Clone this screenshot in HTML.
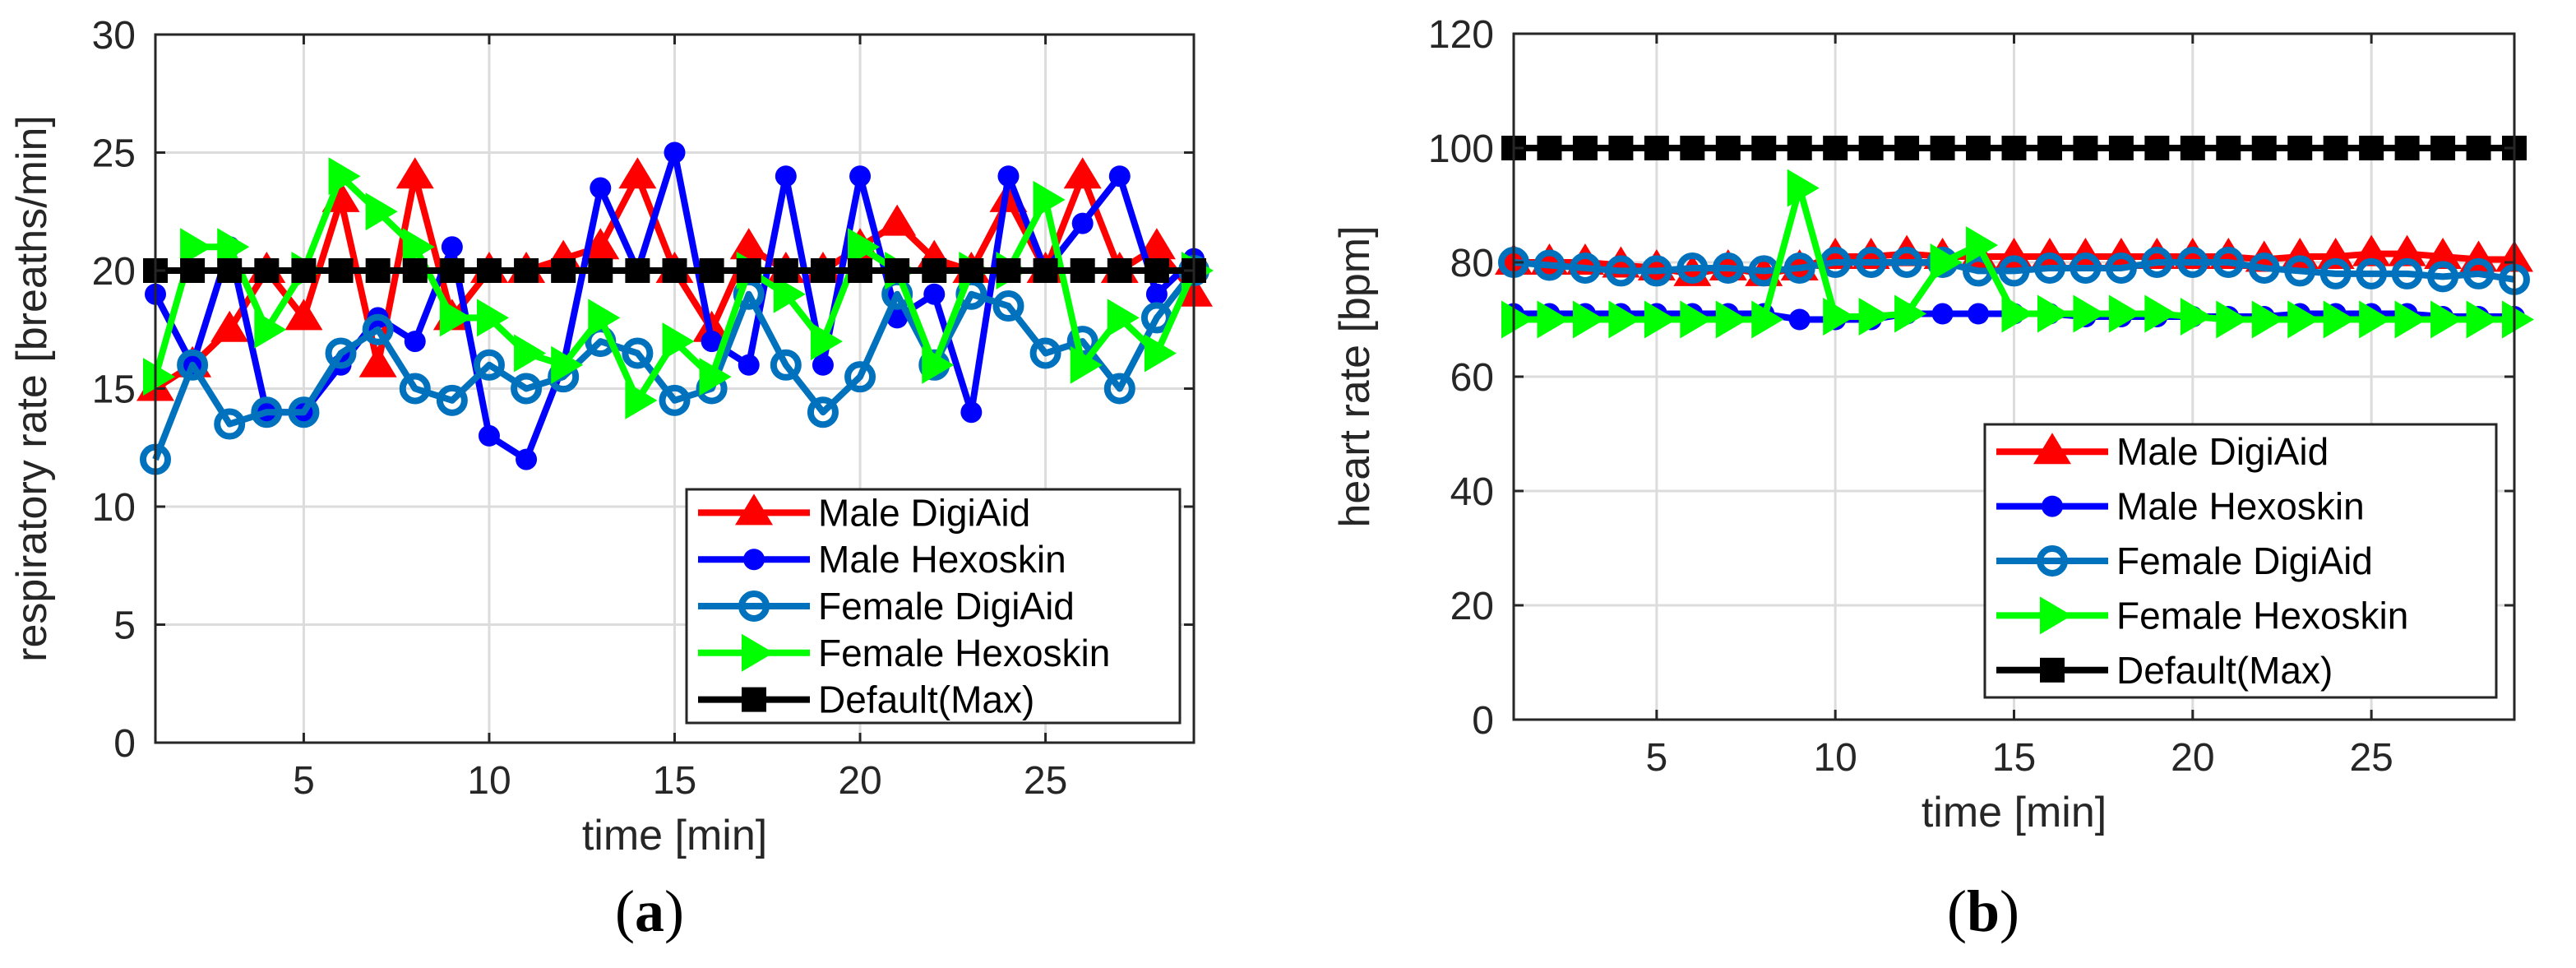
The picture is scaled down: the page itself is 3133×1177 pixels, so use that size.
<!DOCTYPE html>
<html><head><meta charset="utf-8"><style>
body{margin:0;background:#fff;}
svg{display:block;font-family:"Liberation Sans",sans-serif;}
</style></head><body>
<svg id="fig" width="3133" height="1177" viewBox="0 0 3133 1177" xmlns="http://www.w3.org/2000/svg"></svg>
<script>
const minutes = [1,2,3,4,5,6,7,8,9,10,11,12,13,14,15,16,17,18,19,20,21,22,23,24,25,26,27,28,29];
const rrMaleDigiAid = [15,16,17.5,20,18,23,16,24,18,20,20,20.5,21,24,20,17.5,21,20,20,21,22,20.5,20,23,20,24,20,21,19];
const rrMaleHexoskin = [19,16,21,14,14,16,18,17,21,13,12,16,23.5,20,25,17,16,24,16,24,18,19,14,24,20,22,24,19,20.5];
const rrFemaleDigiAid = [12,16,13.5,14,14,16.5,17.5,15,14.5,16,15,15.5,17,16.5,14.5,15,19,16,14,15.5,19,16,19,18.5,16.5,17,15,18,20];
const rrFemaleHexoskin = [15.5,21,21,17.5,20,24,22.5,21,18,18,16.5,16,18,14.5,17,15.5,20,19,17,21,20,16,20,20,23,16,18,16.5,20];
const rrDefault = [20,20,20,20,20,20,20,20,20,20,20,20,20,20,20,20,20,20,20,20,20,20,20,20,20,20,20,20,20];
const hrMaleDigiAid = [80,80,80,79.5,79,78,79,78,79,81,81,81.5,81,81,81,81,81,81,81,81,81,80.5,81,81,81.5,81.5,81,80.5,80.5];
const hrMaleHexoskin = [71,71,71,71,71,71,71,71,70,70,70,71,71,71,71,71,70.5,70.5,70.5,70.5,70.5,70.5,71,71,71,71,70.5,70.5,70.5];
const hrFemaleDigiAid = [80,79.5,79,78.5,78.5,79,79,78.5,79,80,80,80,80,78.5,78.5,79,79,79,80,80,80,79,78.5,78,78,78,77.5,78,77];
const hrFemaleHexoskin = [70,70,70,70,70,70,70,70,93,70.5,70.5,71,80,83,71,71,71,71,71,70.5,70,70,70,70,70,70,70,70,70];
const hrDefault = [100,100,100,100,100,100,100,100,100,100,100,100,100,100,100,100,100,100,100,100,100,100,100,100,100,100,100,100,100];
const xTicks = [5,10,15,20,25];
const rrTicks = [0,5,10,15,20,25,30];
const hrTicks = [0,20,40,60,80,100,120];
const seriesNames = ["Male DigiAid","Male Hexoskin","Female DigiAid","Female Hexoskin","Default(Max)"];

const NS="http://www.w3.org/2000/svg";
const svg=document.getElementById('fig');
function mk(tag,attrs,parent){const e=document.createElementNS(NS,tag);for(const k in attrs)e.setAttribute(k,attrs[k]);(parent||svg).appendChild(e);return e;}
const styles=[
 {color:"#ff0000",marker:"tri"},
 {color:"#0000ff",marker:"dot"},
 {color:"#0072bd",marker:"circ"},
 {color:"#00ff00",marker:"rtri"},
 {color:"#000000",marker:"sq"}];
function marker(g,type,color,x,y){
  let e;
  if(type==="tri"){e=mk('polygon',{points:`${x},${y-23} ${x-23},${y+15} ${x+23},${y+15}`,fill:color},g);}
  else if(type==="dot"){e=mk('circle',{cx:x,cy:y,r:13,fill:color},g);}
  else if(type==="circ"){e=mk('circle',{cx:x,cy:y,r:15,fill:"none",stroke:color,"stroke-width":8},g);}
  else if(type==="rtri"){e=mk('polygon',{points:`${x+24},${y} ${x-15},${y-23} ${x-15},${y+23}`,fill:color},g);}
  else {e=mk('rect',{x:x-15,y:y-15,width:30,height:30,fill:color},g);}
  
  
  return e;
}
function chart(o){
  const g=mk('g',{});
  
  
  const sx=v=>o.x0+(v-1)/(28)*(o.x1-o.x0);
  const sy=v=>o.y1-(v-o.ymin)/(o.ymax-o.ymin)*(o.y1-o.y0);
  mk('rect',{x:o.x0,y:o.y0,width:o.x1-o.x0,height:o.y1-o.y0,fill:"#fff"},g);
  xTicks.forEach(t=>{const l=mk('line',{x1:sx(t),x2:sx(t),y1:o.y0,y2:o.y1,stroke:"#dcdcdc","stroke-width":3},g);
    });
  o.yTicks.forEach(t=>{const l=mk('line',{x1:o.x0,x2:o.x1,y1:sy(t),y2:sy(t),stroke:"#dcdcdc","stroke-width":3},g);
    });
  o.series.forEach((d,i)=>{
    const s=styles[i];
    const sg=mk('g',{},g);
    
    
    mk('polyline',{points:d.map((v,j)=>sx(minutes[j])+','+sy(v)).join(' '),fill:"none",stroke:s.color,"stroke-width":8,"stroke-linejoin":"round"},sg);
    d.forEach((v,j)=>marker(sg,s.marker,s.color,sx(minutes[j]),sy(v)));
  });
  const bx=mk('rect',{x:o.x0,y:o.y0,width:o.x1-o.x0,height:o.y1-o.y0,fill:"none",stroke:"#262626","stroke-width":3},g);
  
  xTicks.forEach(t=>{
    mk('line',{x1:sx(t),x2:sx(t),y1:o.y1,y2:o.y1-12,stroke:"#262626","stroke-width":3},g);
    mk('line',{x1:sx(t),x2:sx(t),y1:o.y0,y2:o.y0+12,stroke:"#262626","stroke-width":3},g);
    const tx=mk('text',{x:sx(t),y:o.y1+62,"text-anchor":"middle","font-size":48,fill:"#262626"},g);tx.textContent=t;
    
  });
  o.yTicks.forEach(t=>{
    mk('line',{x1:o.x0,x2:o.x0+12,y1:sy(t),y2:sy(t),stroke:"#262626","stroke-width":3},g);
    mk('line',{x1:o.x1,x2:o.x1-12,y1:sy(t),y2:sy(t),stroke:"#262626","stroke-width":3},g);
    const tx=mk('text',{x:o.x0-24,y:sy(t)+17,"text-anchor":"end","font-size":48,fill:"#262626"},g);tx.textContent=t;
    
  });
  const xt=mk('text',{x:(o.x0+o.x1)/2,y:o.y1+130,"text-anchor":"middle","font-size":52,fill:"#262626"},g);xt.textContent="time [min]";
  
  const yt=mk('text',{x:0,y:0,"text-anchor":"middle","font-size":52,fill:"#262626",transform:`translate(${o.ytx},${(o.y0+o.y1)/2}) rotate(-90)`},g);yt.textContent=o.ytitle;
  
  const lg=mk('g',{},g);
  
  mk('rect',{x:o.lx,y:o.ly,width:o.lw,height:o.lh,fill:"#fff",stroke:"#262626","stroke-width":3},lg);
  const step=o.lh/5;
  seriesNames.forEach((n,i)=>{
    const cy=o.ly+step*(i+0.5);
    const eg=mk('g',{},lg);
    
    mk('line',{x1:o.lx+14,x2:o.lx+150,y1:cy,y2:cy,stroke:styles[i].color,"stroke-width":8},eg);
    marker(eg,styles[i].marker,styles[i].color,o.lx+82,cy);
    const t=mk('text',{x:o.lx+160,y:cy+16,"font-size":46,fill:"#000"},eg);t.textContent=n;
  });
  const cap=mk('text',{x:o.capx,y:1132,"text-anchor":"middle","font-size":72,fill:"#000","font-family":"Liberation Serif, serif"},g);
  cap.innerHTML='(<tspan font-weight="bold">'+o.cap+'</tspan>)';
  
}
chart({name:"respiratory-rate-chart",x0:189,x1:1452,y0:42,y1:903,ymin:0,ymax:30,yTicks:rrTicks,
  series:[rrMaleDigiAid,rrMaleHexoskin,rrFemaleDigiAid,rrFemaleHexoskin,rrDefault],
  ytitle:"respiratory rate [breaths/min]",ytx:56,lx:835,ly:595,lw:600,lh:284,capx:790,cap:"a"});
chart({name:"heart-rate-chart",x0:1841,x1:3058,y0:41,y1:875,ymin:0,ymax:120,yTicks:hrTicks,
  series:[hrMaleDigiAid,hrMaleHexoskin,hrFemaleDigiAid,hrFemaleHexoskin,hrDefault],
  ytitle:"heart rate [bpm]",ytx:1665,lx:2414,ly:516,lw:622,lh:332,capx:2412,cap:"b"});
</script>
</body></html>
